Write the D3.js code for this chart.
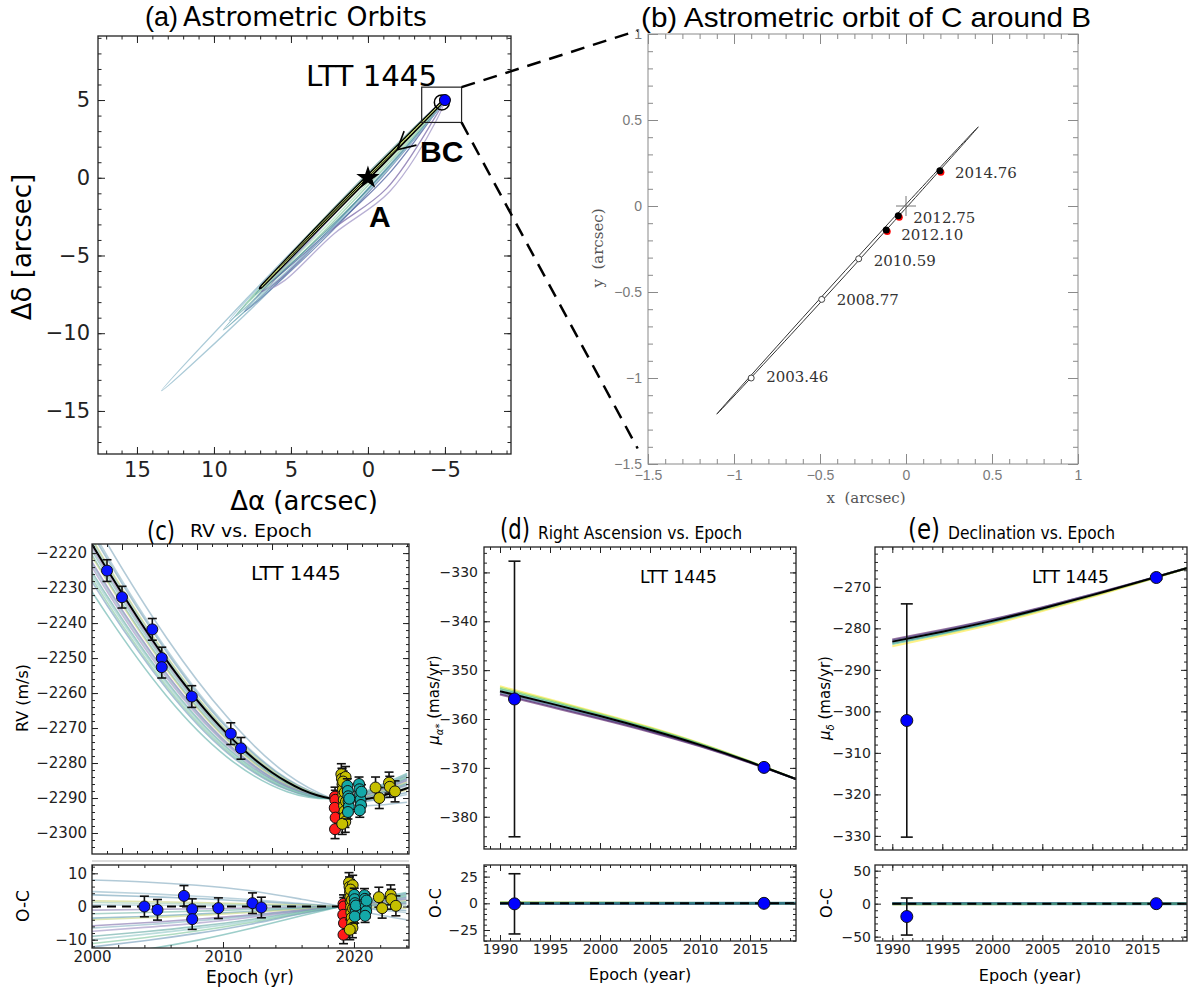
<!DOCTYPE html>
<html>
<head>
<meta charset="utf-8">
<script src="https://cdn.jsdelivr.net/npm/d3@7"></script>
<style>
body { margin: 0; background: #fff; }
svg { display: block; }
</style>
</head>
<body>
<svg id="fig" width="1201" height="993"></svg>
<script>
// LTT 1445 -- orbit figure, five panels

///////////////////////////////////////////////////////////////////////////////
// Data

// (a) orbits of BC relative to A, points [dRA, dDec] in arcsec
var orbitBest = [[-4.9, 4.95], [-0.95, 1.05], [3.05, -2.95], [7.0, -7.1], [3.1, -3.15], [-0.9, 0.85], [-4.75, 4.8]];
var orbitColors = ["#8db8c9", "#5f9fae", "#86c8a0", "#5577aa", "#7b6aa8", "#a096c6", "#4f8f9a", "#4b5d9c", "#a9dcb6", "#9fc4d4", "#c8da78"];
var orbitPts = [
  [[-4.95, 5.0], [1.35, -1.12], [7.45, -7.33], [13.4, -13.7], [6.95, -7.83], [0.85, -1.62], [-4.6, 4.5]],
  [[-4.95, 5.0], [-0.03, 0.13], [4.73, -4.78], [9.4, -9.8], [4.33, -5.18], [-0.43, -0.27], [-4.7, 4.6]],
  [[-4.95, 5.0], [-0.25, 0.48], [4.25, -4.13], [8.6, -8.9], [3.9, -4.48], [-0.6, 0.13], [-4.75, 4.7]],
  [[-4.95, 5.0], [-0.5, 0.53], [3.8, -3.98], [8.0, -8.6], [3.35, -4.43], [-0.95, 0.08], [-4.7, 4.6]],
  [[-4.95, 5.0], [-1.0, 0.95], [3.0, -3.1], [6.9, -7.3], [5.8, -6.6], [2.4, -3.4], [-1.2, -0.7], [-4.3, 3.8]],
  [[-4.95, 5.0], [-1.05, 1.0], [2.8, -3.0], [6.4, -7.1], [5.4, -6.6], [2.2, -3.6], [-1.4, -0.9], [-4.4, 3.6]],
  [[-4.95, 5.0], [-0.8, 0.9], [3.3, -3.2], [7.3, -7.5], [2.9, -3.6], [-1.2, 0.5], [-4.7, 4.6]],
  [[-4.95, 5.0], [-0.7, 1.0], [3.2, -3.0], [6.6, -6.9], [2.6, -3.5], [-1.4, 0.3], [-4.6, 4.5]],
  [[-4.95, 5.0], [-0.4, 0.7], [3.9, -3.7], [7.9, -8.1], [3.6, -4.0], [-0.7, 0.4], [-4.75, 4.7]],
  [[-4.95, 5.0], [0.1, -0.05], [4.6, -4.45], [9.0, -9.2], [4.1, -4.95], [-0.4, -0.45], [-4.6, 4.45]],
  [[-4.9, 4.95], [-0.9, 1.0], [3.05, -2.95], [6.9, -7.0], [3.0, -3.05], [-0.95, 0.95], [-4.85, 4.9]]
];
var bcNow = [-5.0, 5.0];
var bcRing = [-4.8, 4.85];
var starA = [0, 0];
var zoomBox = [[-3.49, 5.83], [-6.08, 3.56]];
var aTicksX = [15, 10, 5, 0, -5];
var aTicksY = [5, 0, -5, -10, -15];

// (b) orbit of C around B, arcsec
var cEpochLabels = ["2003.46", "2008.77", "2010.59", "2012.10", "2012.75", "2014.76"];
var cX = [-0.90, -0.49, -0.275, -0.115, -0.045, 0.197];
var cY = [-1.00, -0.543, -0.307, -0.139, -0.056, 0.205];
var cFilled = [false, false, false, true, true, true];
var cOrbit = [[-1.1, -1.21], [-0.6, -0.649], [-0.1, -0.099], [0.42, 0.46], [-0.1, -0.123], [-0.6, -0.673]];
var bTicks = [-1.5, -1, -0.5, 0, 0.5, 1];

// (c) radial velocities (m/s)
var blueT = [2004.0, 2005.0, 2007.02, 2007.65, 2007.65, 2009.65, 2012.25, 2012.93];
var blueRV = [-2225.0, -2232.6, -2241.8, -2250.0, -2252.6, -2261.0, -2271.6, -2275.8];
var blueOC = [0.0, -1.0, 3.2, -0.8, -3.8, -0.5, 1.0, -0.3];
var blueErr = 3.1;
var redT = [2019.2, 2019.22, 2019.18, 2019.24, 2019.2];
var redRV = [-2289.6, -2290.5, -2292.8, -2295.6, -2298.9];
var redOC = [0.8, 0.0, -2.5, -5.0, -8.5];
var redErr = 2.7;
var yellowT = [2019.62, 2019.66, 2019.70, 2019.72, 2019.75, 2019.78, 2019.80, 2019.83, 2019.86, 2019.88, 2019.90, 2019.93, 2019.68, 2019.74, 2019.85,
  2021.9, 2022.15, 2022.8, 2022.85, 2023.2];
var yellowRV = [-2283.2, -2284.5, -2286.0, -2287.6, -2289.0, -2290.6, -2292.2, -2293.8, -2295.4, -2296.8, -2284.0, -2291.0, -2297.4, -2285.3, -2288.4,
  -2287.0, -2290.0, -2285.6, -2286.8, -2288.1];
var yellowOC = [7.2, 5.9, 4.4, 2.8, 1.4, -0.2, -1.8, -3.4, -5.0, -6.4, 6.4, -0.6, -7.0, 5.1, 2.0,
  2.8, -0.5, 3.5, 2.2, 0.2];
var yellowErr = 3.0;
var cyanT = [2020.02, 2020.05, 2020.08, 2020.10, 2020.12, 2020.06, 2020.15, 2020.80, 2020.83, 2020.87, 2020.90, 2020.93, 2020.85, 2020.96];
var cyanRV = [-2286.5, -2288.0, -2289.5, -2291.0, -2292.5, -2294.0, -2290.2, -2286.0, -2287.5, -2289.0, -2290.5, -2292.0, -2293.5, -2288.2];
var cyanOC = [3.5, 2.2, 1.0, -0.5, -1.8, -3.0, 0.3, 3.4, 2.3, 1.2, 0.0, -1.4, -2.8, 1.8];
var cyanErr = 2.0;

// best-fit RV curve
var rvYears = [2000, 2001, 2002, 2003, 2004, 2005, 2006, 2007, 2008, 2009, 2010, 2011, 2012,
  2013, 2014, 2015, 2016, 2017, 2018, 2019, 2020, 2021, 2022, 2023, 2024, 2025];
var rvBest = [-2195.2, -2202.8, -2210.2, -2217.5, -2224.6, -2231.5, -2238.2, -2244.7, -2250.8, -2256.6, -2262.0, -2267.0, -2271.6,
  -2275.8, -2279.5, -2282.7, -2285.4, -2287.6, -2289.2, -2290.2, -2290.6, -2290.4, -2289.7, -2288.6, -2287.2, -2285.6];

// sampled orbits, shown as O-C against the best fit
var ocNodes = [2000, 2004, 2008, 2012, 2016, 2019, 2021, 2024];
var ocCurves = [
  [8.0, 7.4, 6.4, 4.8, 2.2, 0, -1.8, -4.0],
  [4.5, 3.9, 3.1, 2.1, 0.9, 0, -0.7, -1.8],
  [3.5, 3.0, 2.4, 1.6, 0.7, 0, -0.5, -1.2],
  [1.7, 1.5, 1.2, 0.8, 0.4, 0, -0.2, -0.5],
  [1.2, 1.0, 0.8, 0.5, 0.2, 0, 0.1, 0.3],
  [0.5, 0.4, 0.3, 0.2, 0.1, 0, 0.3, 0.8],
  [-1.1, -0.9, -0.7, -0.5, -0.2, 0, 0.3, 0.9],
  [-2.2, -1.8, -1.4, -0.9, -0.4, 0, 0.4, 1.2],
  [-3.5, -3.0, -2.3, -1.5, -0.6, 0, 0.6, 1.5],
  [-4.0, -3.4, -2.7, -1.8, -0.8, 0, 0.7, 1.8],
  [-5.8, -4.9, -3.8, -2.6, -1.1, 0, 0.9, 2.2],
  [-6.5, -5.5, -4.3, -2.9, -1.2, 0, 1.0, 2.5],
  [-7.5, -6.3, -5.0, -3.3, -1.4, 0, 1.1, 2.7],
  [-9.0, -7.6, -6.0, -4.0, -1.6, 0, 1.2, 3.0],
  [-10.0, -8.4, -6.6, -4.4, -1.8, 0, 1.3, 3.2],
  [-11.2, -9.4, -7.4, -4.9, -2.0, 0, 1.5, 3.5],
  [-12.2, -10.3, -8.1, -5.4, -2.2, 0, 1.6, 3.8],
  [-15.5, -13.0, -10.2, -6.7, -2.8, 0, 1.9, 4.2]
];
var ocColors = ["#7fa7bd", "#8fb6c6", "#6e9fb5", "#c9d27a", "#9ccab0", "#a7c9d6", "#8a7db0", "#74b8a8", "#5e9bb0", "#c6d77e",
  "#7b6aa8", "#86b2c2", "#9a8cbf", "#5fa7a0", "#8dc7c4", "#7cc49a", "#6d98b8", "#5caea6"];
var cTicksY = [-2300, -2290, -2280, -2270, -2260, -2250, -2240, -2230, -2220];
var cTicksX = [2005, 2010, 2015, 2020];
var cTicksOCX = [2000, 2010, 2020];
var cTicksOCY = [-10, 0, 10];

// (d), (e) Hipparcos / Gaia proper motions (mas/yr)
var pmT = [1991.45, 2016.4];
var raPM = [-355.9, -369.9];
var raErr = [28.2, 0.4];
var raOC = [-0.5, 0.0];
var decPM = [-302.2, -267.75];
var decErr = [28.1, 0.4];
var decOC = [-19.5, 0.0];
var pmYears = [1990, 1995, 2000, 2005, 2010, 2015, 2019.6];
var raBest = [-354.3, -356.8, -359.4, -362.2, -365.3, -368.8, -372.3];
var raSamples = [
  [-353.3, -356.0, -358.8, -361.7, -364.95, -368.65, -372.3],
  [-353.6, -356.2, -358.95, -361.85, -365.05, -368.7, -372.3],
  [-353.9, -356.5, -359.15, -362.0, -365.15, -368.75, -372.3],
  [-354.5, -357.0, -359.6, -362.35, -365.4, -368.85, -372.3],
  [-354.8, -357.3, -359.85, -362.5, -365.5, -368.9, -372.3],
  [-355.0, -357.5, -360.0, -362.65, -365.6, -368.95, -372.3]
];
var decBest = [-283.2, -280.8, -278.2, -275.2, -272.0, -268.6, -265.4];
var decSamples = [
  [-282.7, -280.35, -277.8, -274.9, -271.8, -268.5, -265.4],
  [-282.9, -280.55, -277.95, -275.0, -271.85, -268.55, -265.4],
  [-283.5, -281.1, -278.45, -275.4, -272.1, -268.65, -265.4],
  [-283.8, -281.35, -278.65, -275.55, -272.2, -268.7, -265.4],
  [-284.3, -281.75, -279.0, -275.8, -272.4, -268.8, -265.4]
];
var raColors = ["#fde725", "#7ad151", "#22a884", "#2a788e", "#414487", "#440154"];
var decColors = ["#440154", "#414487", "#2a788e", "#22a884", "#fde725"];
var pmTicksX = [1990, 1995, 2000, 2005, 2010, 2015];
var dTicksY = [-380, -370, -360, -350, -340, -330];
var dTicksOC = [-25, 0, 25];
var eTicksY = [-330, -320, -310, -300, -290, -280, -270];
var eTicksOC = [-50, 0, 50];

///////////////////////////////////////////////////////////////////////////////
// Helpers

var svg = d3.select("#fig");
var FONT = "'DejaVu Sans', sans-serif";
var ARIAL = "'Liberation Sans', Arial, sans-serif";

var zip = function (a, b) {
  return a.map(function (v, i) { return [v, b[i]]; });
};

var path = function (sx, sy) {
  return d3.line().x(function (d) { return sx(d[0]); }).y(function (d) { return sy(d[1]); });
};

var addClip = function (id, sx, sy) {
  var xr = sx.range(), yr = sy.range();
  svg.append("clipPath").attr("id", id).append("rect")
    .attr("x", Math.min(xr[0], xr[1])).attr("y", Math.min(yr[0], yr[1]))
    .attr("width", Math.abs(xr[1] - xr[0])).attr("height", Math.abs(yr[1] - yr[0]));
  return "url(#" + id + ")";
};

// matplotlib-ish box: inward ticks on all four sides, labels left and bottom
var boxAxes = function (sx, sy, o) {
  var xr = sx.range(), yr = sy.range();
  var x0 = Math.min(xr[0], xr[1]), x1 = Math.max(xr[0], xr[1]);
  var y0 = Math.min(yr[0], yr[1]), y1 = Math.max(yr[0], yr[1]);
  var none = function () { return ""; };
  var g = svg.append("g").attr("color", o.color || "#222")
    .attr("font-family", o.font || FONT).attr("font-size", o.size || 15);
  var sides = [
    [d3.axisBottom, [0, y1], sx, o.xMajor, o.xMinor, o.xFmt, o.padX],
    [d3.axisTop, [0, y0], sx, o.xMajor, o.xMinor, null, 0],
    [d3.axisLeft, [x0, 0], sy, o.yMajor, o.yMinor, o.yFmt, o.padY],
    [d3.axisRight, [x1, 0], sy, o.yMajor, o.yMinor, null, 0]
  ];
  sides.forEach(function (s) {
    var t = "translate(" + s[1][0] + "," + s[1][1] + ")";
    var mi = g.append("g").attr("transform", t)
      .call(s[0](s[2]).tickValues(s[4]).tickSize(-(o.minor || 3)).tickFormat(none));
    mi.select(".domain").remove();
    var ma = g.append("g").attr("transform", t)
      .call(s[0](s[2]).tickValues(s[3]).tickSize(-(o.major || 6)).tickPadding(s[6] || 5).tickFormat(s[5] || none));
    ma.select(".domain").remove();
    if (o.textColor) ma.selectAll("text").attr("fill", o.textColor);
  });
  g.selectAll("g").attr("font-family", null).attr("font-size", null);
  g.append("rect").attr("x", x0).attr("y", y0).attr("width", x1 - x0).attr("height", y1 - y0)
    .attr("fill", "none").attr("stroke", o.frame || "#222").attr("stroke-width", o.frameWidth || 1.3);
  return g;
};

var errorbars = function (g, sx, sy, xs, ys, errs, cap, width) {
  xs.forEach(function (x, i) {
    var e = Array.isArray(errs) ? errs[i] : errs;
    var px = sx(x), top = sy(ys[i] + e), bot = sy(ys[i] - e);
    g.append("line").attr("x1", px).attr("x2", px).attr("y1", top).attr("y2", bot);
    g.append("line").attr("x1", px - cap).attr("x2", px + cap).attr("y1", top).attr("y2", top);
    g.append("line").attr("x1", px - cap).attr("x2", px + cap).attr("y1", bot).attr("y2", bot);
  });
  g.attr("stroke", "#111").attr("stroke-width", width || 1.5);
};

var dots = function (g, sx, sy, xs, ys, r, fill, edge) {
  g.selectAll("circle.d").data(zip(xs, ys)).enter().append("circle")
    .attr("class", "d")
    .attr("cx", function (d) { return sx(d[0]); })
    .attr("cy", function (d) { return sy(d[1]); })
    .attr("r", r).attr("fill", fill).attr("stroke", edge || "#111").attr("stroke-width", 1);
};

var label = function (txt, x, y, size, o) {
  o = o || {};
  var t = svg.append("text").attr("x", x).attr("y", y).attr("font-size", size)
    .attr("font-family", o.font || FONT).attr("fill", o.fill || "#000")
    .attr("text-anchor", o.anchor || "start").attr("xml:space", "preserve").text(txt);
  if (o.weight) t.attr("font-weight", o.weight);
  if (o.len) t.attr("textLength", o.len).attr("lengthAdjust", "spacingAndGlyphs");
  if (o.rotate) t.attr("transform", "rotate(-90," + x + "," + y + ")");
  return t;
};

var fmtInt = d3.format("d");

///////////////////////////////////////////////////////////////////////////////
// (a) Astrometric orbits

var ax = d3.scaleLinear().domain([17.53, -9.29]).range([98, 511]);
var ay = d3.scaleLinear().domain([-17.77, 9.12]).range([454, 36]);
var aClip = addClip("clipA", ax, ay);
var aLine = path(ax, ay).curve(d3.curveCatmullRomClosed.alpha(0.5));
var ga = svg.append("g").attr("clip-path", aClip);

ga.selectAll("path.orb").data(orbitPts.slice(0, orbitPts.length - 1)).enter().append("path")
  .attr("class", "orb").attr("d", aLine).attr("fill", "none")
  .attr("stroke", function (d, i) { return orbitColors[i]; })
  .attr("stroke-width", 1.3).attr("stroke-opacity", 0.75);
ga.append("path").attr("d", aLine(orbitBest)).attr("fill", "none")
  .attr("stroke", "#000").attr("stroke-width", 3.2);
ga.append("path").attr("d", aLine(orbitPts[orbitPts.length - 1])).attr("fill", "none")
  .attr("stroke", orbitColors[orbitColors.length - 1]).attr("stroke-width", 0.9);

// direction arrow on the orbit
var arrowTip = [-1.9, 1.8], arrowEnds = [[-2.35, 3.0], [-3.15, 2.1]];
arrowEnds.forEach(function (e) {
  ga.append("line").attr("x1", ax(arrowTip[0])).attr("y1", ay(arrowTip[1]))
    .attr("x2", ax(e[0])).attr("y2", ay(e[1])).attr("stroke", "#000").attr("stroke-width", 1.6);
});

ga.append("path").attr("transform", "translate(" + ax(starA[0]) + "," + ay(starA[1]) + ")")
  .attr("d", d3.symbol().type(d3.symbolStar).size(170)).attr("fill", "#000");
ga.append("circle").attr("cx", ax(bcRing[0])).attr("cy", ay(bcRing[1])).attr("r", 7.5)
  .attr("fill", "none").attr("stroke", "#000").attr("stroke-width", 1.5);
ga.append("circle").attr("cx", ax(bcNow[0])).attr("cy", ay(bcNow[1])).attr("r", 5.5)
  .attr("fill", "#0000ff").attr("stroke", "#000").attr("stroke-width", 1);

svg.append("rect").attr("x", ax(zoomBox[0][0])).attr("y", ay(zoomBox[0][1]))
  .attr("width", ax(zoomBox[1][0]) - ax(zoomBox[0][0])).attr("height", ay(zoomBox[1][1]) - ay(zoomBox[0][1]))
  .attr("fill", "none").attr("stroke", "#222").attr("stroke-width", 1.2);

boxAxes(ax, ay, {
  xMajor: aTicksX, xMinor: d3.range(-9, 18, 1), yMajor: aTicksY, yMinor: d3.range(-17, 10, 1),
  xFmt: fmtInt, yFmt: fmtInt, size: 21, major: 7, minor: 3.5, padX: 8, padY: 8
});

label("(a)", 145, 26, 27, { font: ARIAL, len: 33 });
label("Astrometric Orbits", 183, 26, 26, { len: 244 });
label("LTT 1445", 306, 86, 28, { len: 131 });
label("BC", 420, 162, 30, { weight: "bold", font: ARIAL });
label("A", 369, 227, 30, { weight: "bold", font: ARIAL });
label("Δα (arcsec)", 304, 510, 26, { anchor: "middle" });
label("Δδ [arcsec]", 31, 247, 26, { anchor: "middle", rotate: true });

///////////////////////////////////////////////////////////////////////////////
// (b) Astrometric orbit of C around B

var bx = d3.scaleLinear().domain([-1.5, 1]).range([648, 1078]);
var by = d3.scaleLinear().domain([-1.5, 1]).range([464, 34]);
var gb = svg.append("g").attr("clip-path", addClip("clipB", bx, by));

gb.append("path").attr("d", path(bx, by).curve(d3.curveCatmullRomClosed.alpha(0.5))(cOrbit))
  .attr("fill", "none").attr("stroke", "#333").attr("stroke-width", 1);
gb.append("path").attr("d", "M" + (bx(0) - 10) + "," + by(0) + "H" + (bx(0) + 10) +
    "M" + bx(0) + "," + (by(0) - 10) + "V" + (by(0) + 10))
  .attr("stroke", "#777").attr("stroke-width", 1);
var labDy = [4, 6, 7, 10, 7, 7];
cX.forEach(function (x, i) {
  if (cFilled[i]) {
    gb.append("circle").attr("cx", bx(x) + 1).attr("cy", by(cY[i]) + 1.5).attr("r", 3.5).attr("fill", "#f00");
    gb.append("circle").attr("cx", bx(x)).attr("cy", by(cY[i])).attr("r", 3.5).attr("fill", "#000");
  } else {
    gb.append("circle").attr("cx", bx(x)).attr("cy", by(cY[i])).attr("r", 3)
      .attr("fill", "#fff").attr("stroke", "#444").attr("stroke-width", 1);
  }
  gb.append("text").attr("x", bx(x) + 15).attr("y", by(cY[i]) + labDy[i])
    .attr("font-family", "'DejaVu Serif', serif").attr("font-size", 15).attr("fill", "#333")
    .text(cEpochLabels[i]);
});

boxAxes(bx, by, {
  xMajor: bTicks, xMinor: d3.range(-1.5, 1.01, 0.1), yMajor: bTicks, yMinor: d3.range(-1.5, 1.01, 0.1),
  xFmt: d3.format(""), yFmt: d3.format(""), font: ARIAL, size: 14,
  color: "#8a8a8a", textColor: "#7a7a7a", frame: "#8a8a8a", frameWidth: 1,
  major: 10, minor: 5, padX: 6, padY: 6
});

label("(b) Astrometric orbit of C around B", 641, 27, 28, { font: ARIAL, len: 450 });
label("x\u00a0\u00a0(arcsec)", 866, 503, 15, { anchor: "middle", font: "'DejaVu Serif', serif", fill: "#555" });
label("y\u00a0\u00a0(arcsec)", 603, 248, 15, { anchor: "middle", font: "'DejaVu Serif', serif", fill: "#555", rotate: true });

// zoom connectors from the box in (a) to panel (b)
var bEnds = [[-1.56, 1.02], [-1.56, -1.41]];
[[zoomBox[1][0], zoomBox[0][1]], [zoomBox[1][0], zoomBox[1][1]]].forEach(function (c, i) {
  svg.append("line").attr("x1", ax(c[0])).attr("y1", ay(c[1]))
    .attr("x2", bx(bEnds[i][0])).attr("y2", by(bEnds[i][1]))
    .attr("stroke", "#000").attr("stroke-width", 2.5).attr("stroke-dasharray", "14,9");
});

///////////////////////////////////////////////////////////////////////////////
// (c) RV vs. Epoch

var cx = d3.scaleLinear().domain([2003.0, 2024.13]).range([92, 409]);
var cy = d3.scaleLinear().domain([-2306, -2217.4]).range([854, 544]);
var cx2 = d3.scaleLinear().domain([2000, 2024.2]).range([92, 409]);
var cy2 = d3.scaleLinear().domain([-12.5, 12.5]).range([948, 865]);

var bestAt = function (t) { return rvBest[rvYears.indexOf(t)]; };

var gc = svg.append("g").attr("clip-path", addClip("clipC", cx, cy));
var cLine = path(cx, cy).curve(d3.curveNatural);
ocCurves.forEach(function (res, i) {
  gc.append("path").attr("d", cLine(ocNodes.map(function (t, k) { return [t, bestAt(t) + res[k]]; })))
    .attr("fill", "none").attr("stroke", ocColors[i]).attr("stroke-width", 1.6).attr("stroke-opacity", 0.6);
});
gc.append("path").attr("d", cLine(zip(rvYears, rvBest))).attr("fill", "none")
  .attr("stroke", "#000").attr("stroke-width", 2);

[[blueT, blueRV, blueErr, "#0a14ff"], [redT, redRV, redErr, "#ff1a1a"],
 [yellowT, yellowRV, yellowErr, "#c6bf00"], [cyanT, cyanRV, cyanErr, "#14a8a8"]].forEach(function (s) {
  errorbars(gc.append("g"), cx, cy, s[0], s[1], s[2], 4.5, 1.6);
  dots(gc.append("g"), cx, cy, s[0], s[1], 5.5, s[3]);
});

boxAxes(cx, cy, {
  xMajor: cTicksX, xMinor: d3.range(2004, 2025, 1), yMajor: cTicksY, yMinor: d3.range(-2304, -2217, 2),
  yFmt: fmtInt, size: 15, major: 6, minor: 3, padY: 5
});
label("LTT 1445", 251, 580, 20);

var gc2 = svg.append("g").attr("clip-path", addClip("clipC2", cx2, cy2));
var c2Line = path(cx2, cy2).curve(d3.curveNatural);
ocCurves.forEach(function (res, i) {
  gc2.append("path").attr("d", c2Line(zip(ocNodes, res)))
    .attr("fill", "none").attr("stroke", ocColors[i]).attr("stroke-width", 1.6).attr("stroke-opacity", 0.6);
});
gc2.append("line").attr("x1", cx2(2000)).attr("x2", cx2(2024.2)).attr("y1", cy2(0)).attr("y2", cy2(0))
  .attr("stroke", "#000").attr("stroke-width", 2).attr("stroke-dasharray", "9,6");
[[blueT, blueOC, blueErr, "#0a14ff"], [redT, redOC, redErr, "#ff1a1a"],
 [yellowT, yellowOC, yellowErr, "#c6bf00"], [cyanT, cyanOC, cyanErr, "#14a8a8"]].forEach(function (s) {
  errorbars(gc2.append("g"), cx2, cy2, s[0], s[1], s[2], 4.5, 1.6);
  dots(gc2.append("g"), cx2, cy2, s[0], s[1], 5.5, s[3]);
});
boxAxes(cx2, cy2, {
  xMajor: cTicksOCX, xMinor: d3.range(2002, 2025, 2), yMajor: cTicksOCY, yMinor: d3.range(-12, 13, 2),
  xFmt: fmtInt, yFmt: fmtInt, size: 15, major: 6, minor: 3, padX: 3, padY: 5
});
svg.append("line").attr("x1", 92).attr("x2", 409).attr("y1", 861).attr("y2", 861)
  .attr("stroke", "#bbb").attr("stroke-width", 1);

label("(c)", 147, 540, 27, { len: 28 });
label("RV vs. Epoch", 190, 537, 18, { len: 122 });
label("RV (m/s)", 28, 698, 16, { anchor: "middle", rotate: true });
label("O-C", 29, 906, 17, { anchor: "middle", rotate: true });
label("Epoch (yr)", 250, 983, 17, { anchor: "middle" });

///////////////////////////////////////////////////////////////////////////////
// (d), (e) proper motions

var pmPanel = function (o) {
  var top = svg.append("g").attr("clip-path", addClip(o.id, o.sx, o.sy));
  var ln = path(o.sx, o.sy).curve(d3.curveNatural);
  o.samples.forEach(function (s, i) {
    top.append("path").attr("d", ln(zip(pmYears, s))).attr("fill", "none")
      .attr("stroke", o.colors[i]).attr("stroke-width", 2).attr("stroke-opacity", 0.55);
  });
  top.append("path").attr("d", ln(zip(pmYears, o.best))).attr("fill", "none")
    .attr("stroke", "#000").attr("stroke-width", 2);
  errorbars(top.append("g"), o.sx, o.sy, pmT, o.pm, o.err, 6, 1.6);
  dots(top.append("g"), o.sx, o.sy, pmT, o.pm, 6, "#0000ff");
  boxAxes(o.sx, o.sy, {
    xMajor: pmTicksX, xMinor: d3.range(1989, 2020, 1), yMajor: o.yTicks, yMinor: o.yMinor,
    yFmt: fmtInt, size: 14, major: 6, minor: 3, padY: o.padY
  });

  var bot = svg.append("g").attr("clip-path", addClip(o.id + "oc", o.sx, o.sy2));
  var ln2 = path(o.sx, o.sy2);
  o.samples.forEach(function (s, i) {
    var res = s.map(function (v, k) { return v - o.best[k]; });
    bot.append("path").attr("d", ln2(zip(pmYears, res))).attr("fill", "none")
      .attr("stroke", o.colors[i]).attr("stroke-width", 2).attr("stroke-opacity", 0.55);
  });
  bot.append("line").attr("x1", o.sx(1990)).attr("x2", o.sx(2019.6)).attr("y1", o.sy2(0)).attr("y2", o.sy2(0))
    .attr("stroke", "#2a7f85").attr("stroke-width", 3).attr("stroke-opacity", 0.8);
  bot.append("line").attr("x1", o.sx(1990)).attr("x2", o.sx(2019.6)).attr("y1", o.sy2(0)).attr("y2", o.sy2(0))
    .attr("stroke", "#000").attr("stroke-width", 2).attr("stroke-dasharray", "9,6");
  errorbars(bot.append("g"), o.sx, o.sy2, pmT, o.oc, o.err, 6, 1.6);
  dots(bot.append("g"), o.sx, o.sy2, pmT, o.oc, 6, "#0000ff");
  boxAxes(o.sx, o.sy2, {
    xMajor: pmTicksX, xMinor: d3.range(1989, 2020, 1), yMajor: o.ocTicks, yMinor: o.ocMinor,
    xFmt: fmtInt, yFmt: fmtInt, size: 14, major: 6, minor: 3, padX: 3, padY: o.padY
  });
};

var dx = d3.scaleLinear().domain([1988.4, 2019.6]).range([484, 796]);
pmPanel({
  id: "clipD", sx: dx,
  sy: d3.scaleLinear().domain([-386.6, -324.8]).range([849, 547]),
  sy2: d3.scaleLinear().domain([-35.3, 35.9]).range([941, 865]),
  samples: raSamples, colors: raColors, best: raBest, pm: raPM, err: raErr, oc: raOC,
  yTicks: dTicksY, yMinor: d3.range(-386, -324, 2), ocTicks: dTicksOC, ocMinor: d3.range(-35, 36, 5), padY: 6
});
label("(d)", 500, 539, 28, { len: 30 });
label("Right Ascension vs. Epoch", 538, 539, 17, { len: 204 });
label("LTT 1445", 640, 583, 17, { len: 77 });
var dLab = svg.append("text").attr("transform", "translate(439,700) rotate(-90)").attr("text-anchor", "middle")
  .attr("font-family", FONT).attr("font-size", 15);
dLab.append("tspan").attr("font-style", "italic").text("μ");
dLab.append("tspan").attr("font-style", "italic").attr("font-size", 10).attr("dy", 4).text("α*");
dLab.append("tspan").attr("dy", -4).text(" (mas/yr)");
label("O-C", 441, 903, 16, { anchor: "middle", rotate: true });
label("Epoch (year)", 640, 980, 16, { anchor: "middle" });

var ex = d3.scaleLinear().domain([1988.27, 2019.47]).range([875, 1187]);
pmPanel({
  id: "clipE", sx: ex,
  sy: d3.scaleLinear().domain([-333.4, -260.4]).range([850, 547]),
  sy2: d3.scaleLinear().domain([-56.6, 58.6]).range([941, 865]),
  samples: decSamples, colors: decColors, best: decBest, pm: decPM, err: decErr, oc: decOC,
  yTicks: eTicksY, yMinor: d3.range(-332, -261, 2), ocTicks: eTicksOC, ocMinor: d3.range(-50, 51, 10), padY: 4
});
label("(e)", 908, 539, 28, { len: 32 });
label("Declination vs. Epoch", 948, 539, 17, { len: 167 });
label("LTT 1445", 1032, 583, 17, { len: 77 });
var eLab = svg.append("text").attr("transform", "translate(830,698) rotate(-90)").attr("text-anchor", "middle")
  .attr("font-family", FONT).attr("font-size", 15);
eLab.append("tspan").attr("font-style", "italic").text("μ");
eLab.append("tspan").attr("font-style", "italic").attr("font-size", 10).attr("dy", 4).text("δ");
eLab.append("tspan").attr("dy", -4).text(" (mas/yr)");
label("O-C", 832, 903, 16, { anchor: "middle", rotate: true });
label("Epoch (year)", 1030, 981, 16, { anchor: "middle" });
</script>
</body>
</html>
